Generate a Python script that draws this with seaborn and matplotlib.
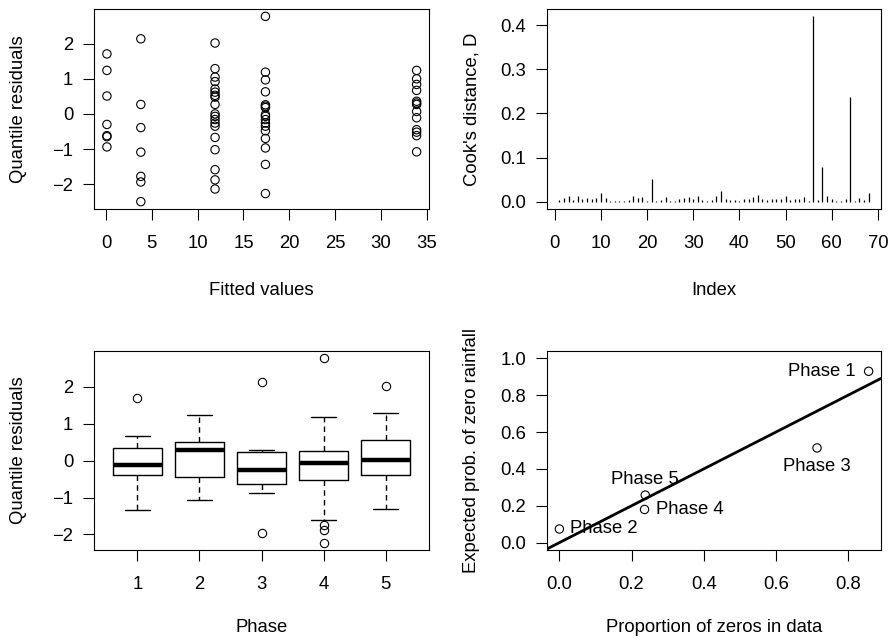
import matplotlib
matplotlib.use("Agg")
import numpy as np
import pandas as pd
import seaborn as sns
import matplotlib.pyplot as plt

# ---------------- data ----------------
# Panel 1: quantile residuals vs fitted values (grouped by fitted value)
group_fitted = [0.1, 3.8, 11.9, 17.4, 33.9]
resid_g1 = [1.71, 1.24, 0.51, -0.30, -0.62, -0.65, -0.94]
resid_g2 = [2.14, 0.27, -0.39, -1.09, -1.78, -1.94, -2.50]
resid_g3 = [2.02, 1.29, 1.05, 0.92, 0.71, 0.62, 0.53, 0.48, 0.27, 0.00,
            -0.07, -0.16, -0.26, -0.35, -0.67, -1.02, -1.59, -1.88, -2.14]
resid_g4 = [2.78, 1.19, 0.97, 0.63, 0.26, 0.22, 0.18, -0.02, -0.07, -0.16,
            -0.26, -0.35, -0.48, -0.70, -0.97, -1.44, -2.27]
resid_g5 = [1.24, 1.00, 0.84, 0.67, 0.36, 0.31, 0.27, 0.07, -0.11, -0.45,
            -0.52, -0.62, -1.08]

# Panel 2: Cook's distance by observation index (1..68)
cooks_d = [0.003, 0.008, 0.013, 0.003, 0.013, 0.005, 0.008, 0.005, 0.008, 0.020,
           0.008, 0.002, 0.002, 0.002, 0.002, 0.003, 0.013, 0.008, 0.011, 0.002,
           0.052, 0.002, 0.003, 0.011, 0.002, 0.002, 0.006, 0.008, 0.011, 0.006,
           0.013, 0.003, 0.002, 0.003, 0.013, 0.023, 0.006, 0.003, 0.003, 0.002,
           0.006, 0.005, 0.011, 0.014, 0.006, 0.003, 0.006, 0.006, 0.005, 0.013,
           0.003, 0.005, 0.005, 0.011, 0.002, 0.420, 0.003, 0.079, 0.012, 0.005,
           0.002, 0.002, 0.006, 0.238, 0.002, 0.008, 0.003, 0.020]

# Panel 3: quantile residuals by phase
phase_labels = ["1", "2", "3", "4", "5"]
phase1 = [-1.35, -0.62, -0.38, -0.27, -0.12, 0.05, 0.34, 0.66, 1.70]
phase2 = [-1.06, -0.70, -0.45, 0.02, 0.30, 0.40, 0.50, 0.90, 1.23]
phase3 = [-1.95, -0.88, -0.62, -0.40, -0.26, 0.05, 0.23, 0.28, 2.14]
phase4 = [-2.22, -1.89, -1.73, -1.62, -0.53, -0.40, -0.30, -0.15, -0.07,
          0.00, 0.10, 0.18, 0.25, 0.50, 0.80, 1.19, 2.77]
phase5 = [-1.31, -0.80, -0.40, -0.20, 0.02, 0.30, 0.55, 1.29, 2.02]

# Panel 4: expected prob. of zero rainfall vs observed proportion of zeros
phase_names = ["Phase 1", "Phase 2", "Phase 3", "Phase 4", "Phase 5"]
prop_zeros = [0.857, 0.000, 0.714, 0.236, 0.238]
expected_prob = [0.930, 0.074, 0.514, 0.180, 0.258]

# ---------------- style ----------------
sns.set_theme(style="ticks")
FS = 13.3
plt.rcParams["font.family"] = ["Liberation Sans", "DejaVu Sans"]
plt.rcParams.update({
    "font.size": FS,
    "axes.linewidth": 0.8,
    "axes.edgecolor": "black",
    "xtick.color": "black",
    "ytick.color": "black",
    "xtick.labelsize": FS,
    "ytick.labelsize": FS,
    "axes.labelsize": FS,
    "text.color": "black",
    "axes.labelcolor": "black",
    "xtick.major.size": 8,
    "ytick.major.size": 8,
    "xtick.major.width": 0.8,
    "ytick.major.width": 0.8,
    "xtick.major.pad": 11,
    "ytick.major.pad": 7,
})

W, H = 889, 638
fig = plt.figure(figsize=(W / 100, H / 100), dpi=100)


def make_ax(x0, y0, x1, y1):
    return fig.add_axes([x0 / W, 1 - y1 / H, (x1 - x0) / W, (y1 - y0) / H])


ax1 = make_ax(94, 9, 429, 209)
ax2 = make_ax(547, 9, 881, 209)
ax3 = make_ax(94, 351, 429, 550)
ax4 = make_ax(547, 351, 881, 550)

for ax in (ax1, ax2, ax3, ax4):
    for s in ax.spines.values():
        s.set_visible(True)
        s.set_color("black")
        s.set_linewidth(0.8)
    ax.set_facecolor("white")

# ---- Panel 1 ----
groups = [resid_g1, resid_g2, resid_g3, resid_g4, resid_g5]
df1 = pd.DataFrame({
    "fitted": np.concatenate([[f] * len(g) for f, g in zip(group_fitted, groups)]),
    "resid": np.concatenate(groups),
})
sns.scatterplot(data=df1, x="fitted", y="resid", ax=ax1, marker="o",
                facecolors="none", edgecolor="black", linewidth=0.8, s=36)
ax1.set_xlim(-1.31, 35.25)
ax1.set_ylim(-2.71, 2.99)
ax1.set_xticks(range(0, 36, 5))
ax1.set_yticks([-2, -1, 0, 1, 2])
ax1.set_yticklabels(["\u22122", "\u22121", "0", "1", "2"])
ax1.set_xlabel("Fitted values")
ax1.set_ylabel("Quantile residuals")

# ---- Panel 2 ----
index = np.arange(1, len(cooks_d) + 1)
ax2.vlines(index, 0, cooks_d, color="black", linewidth=0.9)
ax2.set_xlim(-1.68, 70.68)
ax2.set_ylim(-0.0168, 0.4368)
ax2.set_xticks(range(0, 71, 10))
ax2.set_yticks([0.0, 0.1, 0.2, 0.3, 0.4])
ax2.set_yticklabels(["0.0", "0.1", "0.2", "0.3", "0.4"])
ax2.set_xlabel("Index")
ax2.set_ylabel("Cook's distance, D")

# ---- Panel 3 ----
phases = [phase1, phase2, phase3, phase4, phase5]
df3 = pd.DataFrame({
    "Phase": np.concatenate([[p] * len(v) for p, v in zip(phase_labels, phases)]),
    "resid": np.concatenate(phases),
})
sns.boxplot(data=df3, x="Phase", y="resid", order=phase_labels, ax=ax3,
            fill=False, color="black", linecolor="black", linewidth=1.0,
            width=0.8, whis=1.5, capwidths=0.4,
            whiskerprops={"linestyle": (0, (4, 3)), "linewidth": 1.0},
            medianprops={"linewidth": 3.2, "color": "black", "solid_capstyle": "butt"},
            flierprops={"marker": "o", "markerfacecolor": "none",
                        "markeredgecolor": "black", "markersize": 6,
                        "markeredgewidth": 0.8})
ax3.set_xlim(-0.7, 4.7)
ax3.set_ylim(-2.42, 2.97)
ax3.set_yticks([-2, -1, 0, 1, 2])
ax3.set_yticklabels(["\u22122", "\u22121", "0", "1", "2"])
ax3.set_xlabel("Phase")
ax3.set_ylabel("Quantile residuals")

# ---- Panel 4 ----
df4 = pd.DataFrame({"phase": phase_names, "prop": prop_zeros, "exp": expected_prob})
sns.scatterplot(data=df4, x="prop", y="exp", ax=ax4, marker="o",
                facecolors="none", edgecolor="black", linewidth=0.8, s=36, zorder=3)
ax4.axline((0, 0), slope=1, color="black", linewidth=2.0)
label_offsets = {
    "Phase 1": ((-9, 0), "right", "center"),
    "Phase 2": ((8, 0), "left", "center"),
    "Phase 3": ((0, -7), "center", "top"),
    "Phase 4": ((8, 0), "left", "center"),
    "Phase 5": ((0, 5), "center", "bottom"),
}
for name, xv, yv in zip(phase_names, prop_zeros, expected_prob):
    off, ha, va = label_offsets[name]
    ax4.annotate(name, (xv, yv), xytext=off, textcoords="offset points",
                 ha=ha, va=va, fontsize=FS)
ax4.set_xlim(-0.0343, 0.8913)
ax4.set_ylim(-0.04, 1.04)
ax4.set_xticks([0.0, 0.2, 0.4, 0.6, 0.8])
ax4.set_xticklabels(["0.0", "0.2", "0.4", "0.6", "0.8"])
ax4.set_yticks([0.0, 0.2, 0.4, 0.6, 0.8, 1.0])
ax4.set_yticklabels(["0.0", "0.2", "0.4", "0.6", "0.8", "1.0"])
ax4.set_xlabel("Proportion of zeros in data")
ax4.set_ylabel("Expected prob. of zero rainfall")

for ax in (ax1, ax2):
    ax.tick_params(direction="out")
    ax.xaxis.set_label_coords(0.5, -0.365)
    ax.yaxis.set_label_coords(-0.20, 0.5)
for ax in (ax3, ax4):
    ax.tick_params(direction="out")
    ax.xaxis.set_label_coords(0.5, -0.345)
    ax.yaxis.set_label_coords(-0.20, 0.5)

fig.savefig("out.png", dpi=100, facecolor="white")
